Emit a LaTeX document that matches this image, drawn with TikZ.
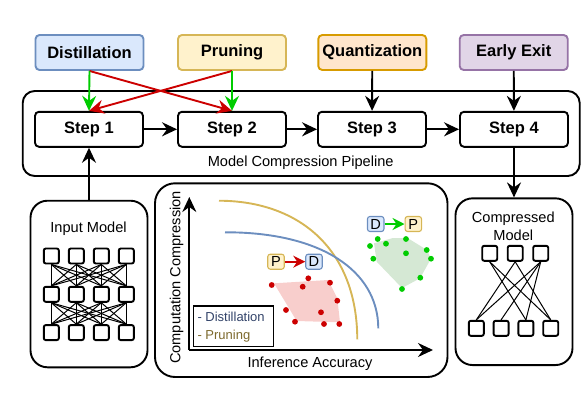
\documentclass[tikz,border=0pt]{standalone}
\usepackage{fontspec}
\setmainfont{Liberation Sans}
\usepackage{tikz}
\usetikzlibrary{positioning,arrows.meta,calc}
\definecolor{distfill}{HTML}{DAE8FC}
\definecolor{distline}{HTML}{6C8EBF}
\definecolor{prunfill}{HTML}{FFF2CC}
\definecolor{prunline}{HTML}{D6B656}
\definecolor{quantfill}{HTML}{FFE6CC}
\definecolor{quantline}{HTML}{D79B00}
\definecolor{exitfill}{HTML}{E1D5E7}
\definecolor{exitline}{HTML}{9673A6}
\definecolor{redpath}{HTML}{CC0000}
\definecolor{greenpath}{HTML}{00CC00}
\definecolor{redarea}{HTML}{F8CECC}
\definecolor{greenarea}{HTML}{D5E8D4}
\definecolor{legdist}{HTML}{33446A}
\definecolor{legprun}{HTML}{7D6A2E}

\begin{document}
\begin{tikzpicture}[x=1pt,y=-1pt,
  tech/.style={draw,line width=1.9pt,rounded corners=4pt,minimum width=108pt,minimum height=35pt,inner sep=1pt,font=\fontsize{16.5}{19}\selectfont\bfseries},
  stepbox/.style={tech,draw=black},
  panel/.style={draw,line width=1.9pt,rounded corners=17pt},
  txt/.style={font=\fontsize{14.6}{18.4}\selectfont},
  flow/.style={line width=1.9pt,-{Stealth[length=15pt,width=14pt,inset=5pt]}},
  tag/.style={draw,line width=1.1pt,rounded corners=2.5pt,minimum width=16.5pt,minimum height=15pt,inner sep=1pt,font=\fontsize{14.6}{16}\selectfont},
  tagflow/.style={line width=1.9pt,-{Stealth[length=12pt,width=12pt,inset=4pt]}},
  neuron/.style={draw,line width=1.9pt,rounded corners=2pt,minimum size=15pt,inner sep=0pt},
  dot/.style={circle,inner sep=0pt,minimum size=5.8pt}]
\useasboundingbox (0,0) rectangle (582,410);
% Techniques on top
\node[tech,fill=distfill,draw=distline] (dist) at (89.5,52.5) {Distillation};
\node[tech,fill=prunfill,draw=prunline] (prun) at (232,52.5) {Pruning};
\node[tech,fill=quantfill,draw=quantline] (quant) at (372.3,52.5) {Quantization};
\node[tech,fill=exitfill,draw=exitline] (exit) at (513.7,52.5) {Early Exit};
% Pipeline with its steps
\node[panel,rounded corners=12pt,minimum width=557pt,minimum height=85pt] (pipe) at (301.2,133.5) {};
\node[stepbox] (step1) at (89,129.3) {Step 1};
\node[stepbox] (step2) at (232,129.3) {Step 2};
\node[stepbox] (step3) at (372,129.3) {Step 3};
\node[stepbox] (step4) at (514,129.3) {Step 4};
\node[txt] (pipelbl) at (300.7,162.7) {Model Compression Pipeline};
\draw[flow] (step1) -- (step2);
\draw[flow] (step2) -- (step3);
\draw[flow] (step3) -- (step4);
% Which technique feeds which step
\draw[flow,redpath] (dist.south) -- (step2.north);
\draw[flow,redpath] (prun.south) -- (step1.north);
\draw[flow,greenpath] (dist.south) -- (step1.north);
\draw[flow,greenpath] (prun.south) -- (step2.north);
\draw[flow] (quant) -- (step3);
\draw[flow] (exit) -- (step4);
% Input model
\node[panel,minimum width=117pt,minimum height=166.6pt] (input) at (89,284) {};
\node[txt] (inlbl) at (88.5,228.3) {Input Model};
\foreach \r in {1,2,3}
  \foreach \c in {1,...,4}
    \node[neuron] (in-\r-\c) at ({51.3+25*(\c-1)},{256+38.3*(\r-1)}) {};
\foreach \r/\s in {1/2,2/3}
  \foreach \a in {1,...,4}
    \foreach \b in {1,...,4}
      \draw[line width=1pt] (in-\r-\a.south) -- (in-\s-\b.north);
\draw[flow] (input) -- (step1);
% Compressed model
\node[panel,minimum width=117pt,minimum height=166.7pt] (output) at (514,281.7) {};
\node[txt,align=center] (outlbl) at (513.3,226.5) {Compressed\\Model};
\foreach \c in {1,2,3}
  \node[neuron] (ot-\c) at ({489.7+25.5*(\c-1)},253.3) {};
\foreach \c in {1,...,4}
  \node[neuron] (ob-\c) at ({476.3+24.8*(\c-1)},328.3) {};
\foreach \a/\b in {1/3,1/4,2/1,2/4,3/1,3/2,3/3}
  \draw[line width=1pt] (ot-\a.south) -- (ob-\b.north);
\draw[flow] (step4) -- (output);
% Trade-off chart
\node[panel,rounded corners=20pt,minimum width=292.5pt,minimum height=193.7pt] (chart) at (301.25,280.15) {};
\coordinate (orig) at (189.3,350);
\coordinate (ytip) at (189.3,197);
\coordinate (xtip) at (433,350);
\draw[flow] (orig) -- (ytip);
\draw[flow] (orig) -- (xtip);
\node[txt,rotate=90] (ylbl) at (176.7,277.5) {Computation Compression};
\node[txt] (xlbl) at (310,364) {Inference Accuracy};
\draw[prunline,line width=1.9pt] (219,200.7) .. controls (300,201) and (357,250) .. (357.3,339.3);
\draw[distline,line width=1.9pt] (225,232.3) .. controls (320,232) and (378,270) .. (378.3,328.3);
% Point clouds
\fill[redarea] (274,283.3) -- (328.3,280) -- (337.3,298.3) -- (340,322.3) -- (296.7,321) -- cycle;
\fill[greenarea] (374,243.3) -- (393,238) -- (408,238.3) -- (427,250) -- (431,258.7) -- (420,278.3) -- (402,288) -- (376.7,261.7) -- cycle;
\foreach \p in {(271.7,285),(308.3,278.3),(302.7,286.7),(330,282.7),(337.3,300.7),(286,310),(321,312.3),(295,321.7),(324,324),(339.3,324)}
  \node[dot,fill=redpath] at \p {};
\foreach \p in {(377.7,239),(386,243.7),(370,246),(406,239),(406,253.3),(426.7,250),(431,258.7),(373.3,258.7),(420.3,277.7),(402,289)}
  \node[dot,fill=greenpath] at \p {};
% Order tags
\node[tag,fill=prunfill,draw=prunline] (tagp1) at (276,261.7) {P};
\node[tag,fill=distfill,draw=distline] (tagd1) at (314,261.7) {D};
\draw[tagflow,redpath] (tagp1) -- (tagd1);
\node[tag,fill=distfill,draw=distline] (tagd2) at (375.7,224) {D};
\node[tag,fill=prunfill,draw=prunline] (tagp2) at (413.3,224) {P};
\draw[tagflow,greenpath] (tagd2) -- (tagp2);
% Legend
\node[draw,fill=white,line width=1.1pt,minimum width=80pt,minimum height=40.7pt] (legend) at (233.3,326.3) {};
\node[anchor=west,text=legdist,font=\fontsize{13}{15}\selectfont] (legd) at (194,317.3) {- Distillation};
\node[anchor=west,text=legprun,font=\fontsize{13}{15}\selectfont] (legp) at (194,336) {- Pruning};
\end{tikzpicture}
\end{document}
